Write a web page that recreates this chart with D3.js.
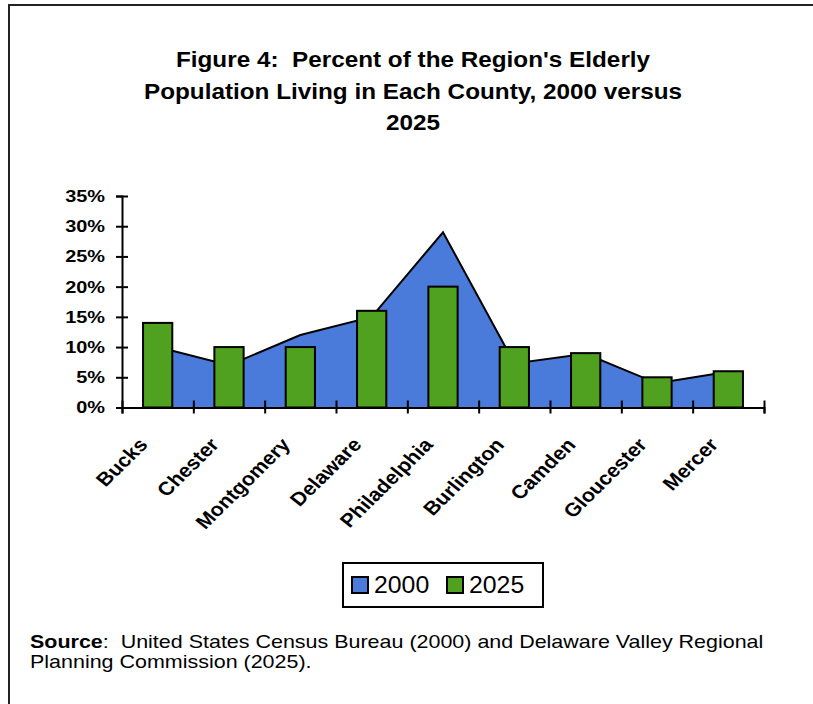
<!DOCTYPE html>
<html>
<head>
<meta charset="utf-8">
<script src="https://cdn.jsdelivr.net/npm/d3@7"></script>
<style>
  html, body { margin: 0; padding: 0; background: #fff; }
  svg { display: block; font-family: "Liberation Sans", Arial, sans-serif; }
</style>
</head>
<body>
<svg id="chart" width="813" height="704"></svg>
<script>
// County list and the two series (percent of the region's elderly population)
const counties = ["Bucks", "Chester", "Montgomery", "Delaware", "Philadelphia",
                  "Burlington", "Camden", "Gloucester", "Mercer"];
const values2000 = [10.0, 7.0, 12.0, 15.0, 29.0, 7.3, 8.9, 4.0, 5.9];
const values2025 = [14, 10, 10, 16, 20, 10, 9, 5, 6];
const yTicks = [0, 5, 10, 15, 20, 25, 30, 35];
const seriesNames = ["2000", "2025"];
const titleLines = ["Figure 4:  Percent of the Region's Elderly",
                    "Population Living in Each County, 2000 versus",
                    "2025"];

const colors = { "2000": "#4b7bda", "2025": "#4fa11f" };
// the page type is set slightly wide
const stretch = 1.13;

const svg = d3.select("#chart");

// page frame (top and left edges)
svg.append("path")
  .attr("d", "M9,704 L9,5 L813,5")
  .attr("fill", "none")
  .attr("stroke", "#222")
  .attr("stroke-width", 2);

// title
svg.append("g").selectAll("text")
  .data(titleLines)
  .join("text")
  .attr("transform", (d, i) => `translate(413,${67 + i * 31.5}) scale(${stretch},1)`)
  .attr("text-anchor", "middle")
  .attr("font-weight", "bold")
  .attr("font-size", 21.5)
  .attr("fill", "#000")
  .attr("xml:space", "preserve")
  .style("white-space", "pre")
  .text(d => d);

// plot area bounds
const plotLeft = 122, plotRight = 764, plotTop = 196, plotBottom = 407.5;
const x = d3.scaleBand().domain(counties).range([plotLeft, plotRight]).padding(0);
const bw = x.bandwidth();
const cx = d => x(d) + bw / 2;
const y = d3.scaleLinear().domain([0, 35]).range([plotBottom, plotTop]);

const rows = counties.map((c, i) => ({ county: c, v2000: values2000[i], v2025: values2025[i] }));

// 2000 as an area through the county centres
const area = d3.area()
  .x(d => cx(d.county))
  .y0(y(0))
  .y1(d => y(d.v2000));
const line = d3.line()
  .x(d => cx(d.county))
  .y(d => y(d.v2000));

svg.append("path")
  .datum(rows)
  .attr("d", area)
  .attr("fill", colors["2000"]);
svg.append("path")
  .datum(rows)
  .attr("d", line)
  .attr("fill", "none")
  .attr("stroke", "#000")
  .attr("stroke-width", 2)
  .attr("stroke-linejoin", "miter");

// 2025 as bars
const barW = bw * 0.41;
svg.append("g").selectAll("rect")
  .data(rows)
  .join("rect")
  .attr("x", d => cx(d.county) - barW / 2)
  .attr("y", d => y(d.v2025))
  .attr("width", barW)
  .attr("height", d => y(0) - y(d.v2025))
  .attr("fill", colors["2025"])
  .attr("stroke", "#000")
  .attr("stroke-width", 2);

// y axis
const yAxis = svg.append("g")
  .attr("transform", `translate(${plotLeft},0)`)
  .call(d3.axisLeft(y).tickValues(yTicks).tickFormat(d => d + "%").tickSize(6).tickPadding(10));
yAxis.select(".domain").attr("stroke", "#000").attr("stroke-width", 2);
yAxis.selectAll(".tick line").attr("x1", 6).attr("stroke", "#000").attr("stroke-width", 2);
yAxis.selectAll(".tick text")
  .attr("x", 0)
  .attr("transform", "translate(-17,0) scale(1.17,1)")
  .attr("font-family", "'Liberation Sans', Arial, sans-serif")
  .attr("font-size", 17)
  .attr("font-weight", "bold")
  .attr("fill", "#000");

// x axis: boundary ticks between counties
const xb = d3.scaleLinear().domain([0, counties.length]).range([plotLeft, plotRight]);
const xAxis = svg.append("g")
  .attr("transform", `translate(0,${plotBottom})`)
  .call(d3.axisBottom(xb).tickValues(d3.range(counties.length + 1)).tickFormat("").tickSize(6));
xAxis.select(".domain").attr("stroke", "#000").attr("stroke-width", 2);
xAxis.selectAll(".tick line").attr("y1", -7).attr("stroke", "#000").attr("stroke-width", 2);

// rotated county labels
svg.append("g").selectAll("text")
  .data(counties)
  .join("text")
  .attr("transform", d => `translate(${cx(d) - 9},${plotBottom + 38}) scale(${stretch},1) rotate(-48)`)
  .attr("text-anchor", "end")
  .attr("font-weight", "bold")
  .attr("font-size", 19)
  .attr("fill", "#000")
  .text(d => d);

// legend
const legend = svg.append("g");
legend.append("rect")
  .attr("x", 343).attr("y", 563).attr("width", 200).attr("height", 44)
  .attr("fill", "#fff").attr("stroke", "#000").attr("stroke-width", 2);
const legX = [352, 447];
seriesNames.forEach((s, i) => {
  legend.append("rect")
    .attr("x", legX[i]).attr("y", 577).attr("width", 16).attr("height", 16)
    .attr("fill", colors[s]).attr("stroke", "#000").attr("stroke-width", 2);
  legend.append("text")
    .attr("transform", `translate(${legX[i] + 22},593) scale(1.08,1)`)
    .attr("font-size", 23)
    .attr("fill", "#000")
    .text(s);
});

// source note
const note = svg.append("g").attr("font-size", 19).attr("fill", "#000");
const l1 = note.append("text")
  .attr("transform", `translate(30,648) scale(${stretch},1)`)
  .style("white-space", "pre");
l1.append("tspan").attr("font-weight", "bold").text("Source");
l1.append("tspan").text(":  United States Census Bureau (2000) and Delaware Valley Regional");
note.append("text")
  .attr("transform", `translate(30,668) scale(${stretch},1)`)
  .text("Planning Commission (2025).");
</script>
</body>
</html>
